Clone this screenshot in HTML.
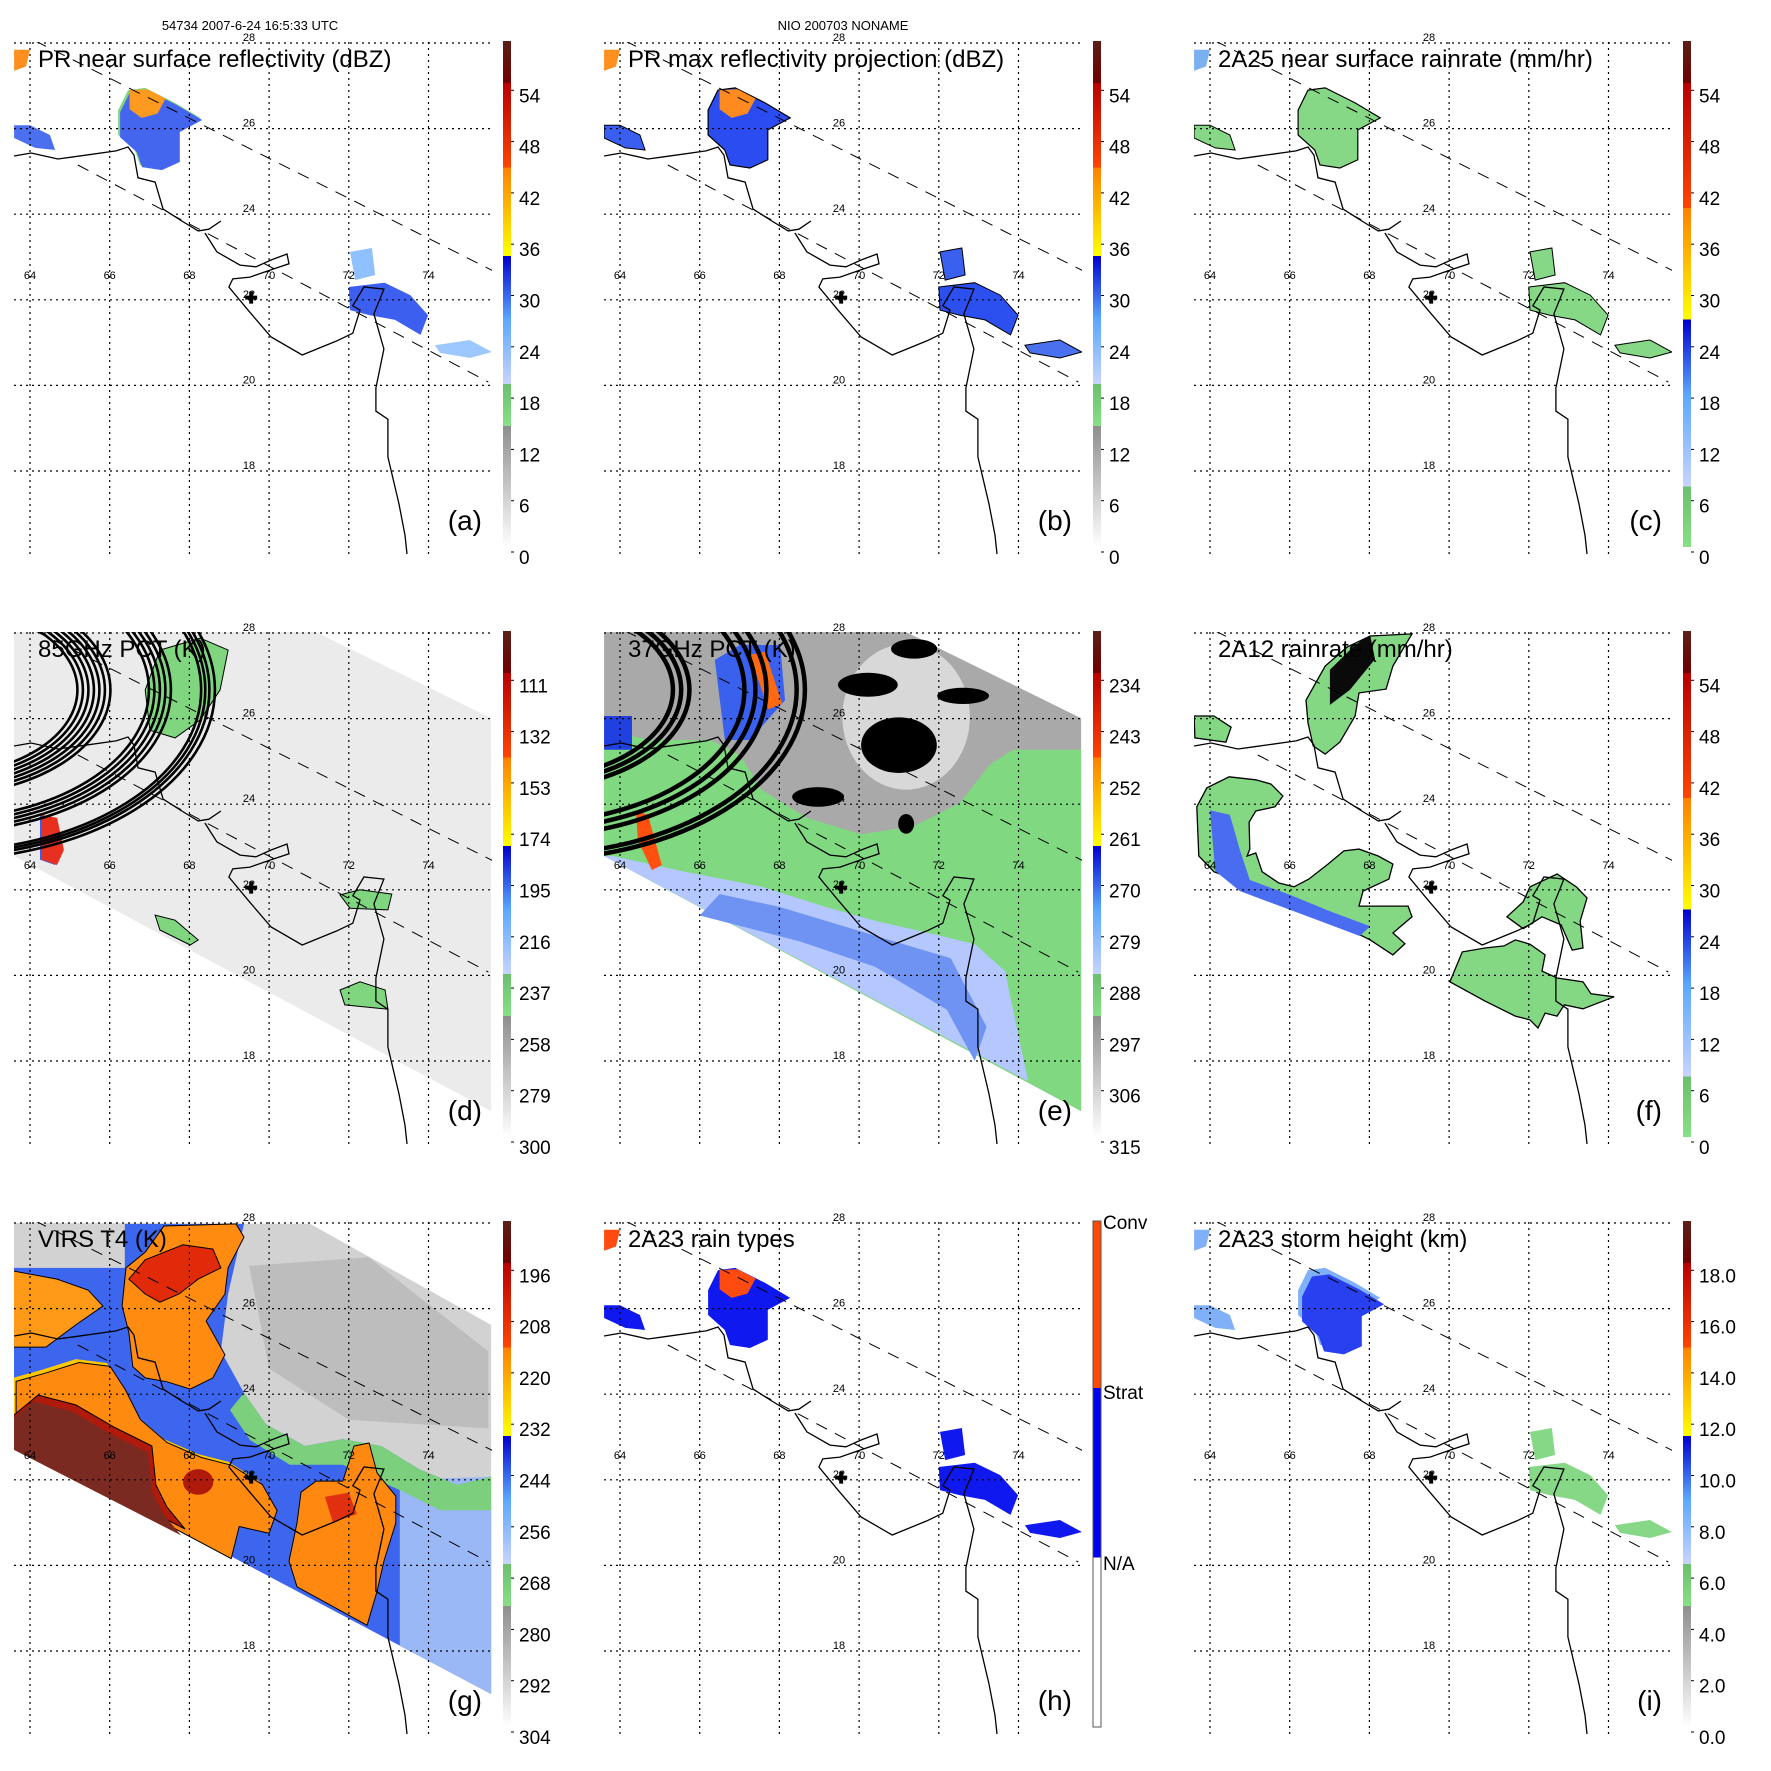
<!DOCTYPE html>
<html><head><meta charset="utf-8"><style>
html,body{margin:0;padding:0;background:#fff;}
svg{display:block;font-family:"Liberation Sans",sans-serif;}
</style></head><body>
<svg id="fig" width="1771" height="1771" viewBox="0 0 1771 1771" xmlns="http://www.w3.org/2000/svg">
<defs>
<clipPath id="mapclip"><rect x="14" y="42" width="478" height="513"/></clipPath>
</defs>
</svg>
<script>
// ---- axis / tick data ----
const lonTicks=[64,66,68,70,72,74];
const latTicks=[18,20,22,24,26,28];
const cbDbz=["0","6","12","18","24","30","36","42","48","54"];
const cbRain=["0","6","12","18","24","30","36","42","48","54"];
const cb85=["300","279","258","237","216","195","174","153","132","111"];
const cb37=["315","306","297","288","279","270","261","252","243","234"];
const cbVirs=["304","292","280","268","256","244","232","220","208","196"];
const cbHgt=["0.0","2.0","4.0","6.0","8.0","10.0","12.0","14.0","16.0","18.0"];
const cbType=["N/A","Strat","Conv"];
const titles=["PR near surface reflectivity (dBZ)","PR max reflectivity projection (dBZ)","2A25 near surface rainrate (mm/hr)","85GHz PCT (K)","37GHz PCT (K)","2A12 rainrate (mm/hr)","VIRS T4 (K)","2A23 rain types","2A23 storm height (km)"];
const letters=["(a)","(b)","(c)","(d)","(e)","(f)","(g)","(h)","(i)"];
const centerPt=[69.55,22.05];
// ---- geography (lon,lat) ----
const coastNorth=[[63.6,25.36],[64.03,25.43],[64.7,25.29],[65.1,25.34],[66.16,25.48],[66.46,25.57],[66.61,25.38],[66.71,24.85],[67.14,24.75],[67.34,24.12],[67.81,23.84],[68.22,23.61],[68.49,23.65],[68.79,23.84]];
const coastSouth=[[68.39,23.56],[68.69,23.12],[69.27,22.81],[69.67,22.77],[70.05,22.93],[70.45,23.07],[70.5,22.84],[70.05,22.7],[69.52,22.53],[69.09,22.49],[68.99,22.3],[69.47,21.76],[70.05,21.13],[70.83,20.71],[71.7,21.04],[72.1,21.22],[72.28,21.76],[72.1,21.86],[72.38,22.3],[72.88,22.25],[72.63,21.67],[72.88,20.85],[72.68,19.94],[72.68,19.4],[72.98,19.21],[72.98,18.33],[73.26,17.23],[73.41,16.5],[73.46,16.06]];
const swathUpper=[[64.13,28.05],[75.72,22.63]];
const swathLower=[[65.2,25.15],[75.5,20.08]];
const pmwSwath=[[63.6,28.02],[71.18,28.02],[75.57,26.01],[75.57,16.83],[63.6,22.79]];
const virsSwath=[[63.57,28.0],[71.03,27.98],[75.57,25.62],[75.57,16.99],[63.57,22.91]];
const prNW=[[66.46,26.9],[66.89,26.95],[67.64,26.6],[68.27,26.25],[67.71,25.97],[67.71,25.27],[67.26,25.08],[66.76,25.15],[66.63,25.5],[66.21,25.85],[66.21,26.43]];
const prNWcore=[[66.5,26.9],[66.95,26.92],[67.4,26.7],[67.2,26.35],[66.8,26.25],[66.5,26.45]];
const prW=[[63.6,26.08],[64,26.08],[64.5,25.85],[64.63,25.5],[64.13,25.55],[63.6,25.78]];
const prTL=[[63.6,27.84],[64.0,27.84],[63.9,27.45],[63.6,27.35]];
const prSE=[[72.0,22.3],[72.9,22.4],[73.54,22.11],[73.99,21.64],[73.8,21.18],[73.16,21.53],[72.53,21.64],[72.03,21.76]];
const prSEn=[[72.03,23.12],[72.58,23.21],[72.66,22.58],[72.16,22.46]];
const prTrail=[[74.16,20.94],[75.04,21.06],[75.59,20.78],[75.04,20.64],[74.29,20.76]];
const fWest=[[63.67,23.94],[63.92,24.38],[64.48,24.64],[65.15,24.57],[65.53,24.47],[65.83,24.19],[65.63,23.94],[65.15,23.84],[64.98,23.58],[65.0,22.95],[64.93,22.79],[65.15,22.86],[65.31,22.42],[65.73,22.16],[66.11,22.07],[66.48,22.25],[66.96,22.6],[67.36,22.91],[67.74,22.95],[68.22,22.79],[68.59,22.6],[68.49,22.25],[67.84,21.97],[67.74,21.62],[68.97,21.62],[69.07,21.37],[68.59,20.99],[68.89,20.74],[68.59,20.48],[68.02,20.83],[67.26,21.18],[66.11,21.72],[65.15,22.07],[64.1,22.42],[63.72,22.79]];
const fWestBlue=[[64,23.86],[64.5,23.75],[64.75,22.93],[65,22.23],[66.01,21.88],[67.01,21.5],[68.02,21.15],[67.76,20.92],[66.76,21.27],[65.76,21.62],[64.75,21.97],[64.13,22.44]];
const fSE=[[70.02,19.85],[70.33,20.55],[70.9,20.64],[71.38,20.69],[71.66,20.83],[72.03,20.73],[72.41,20.48],[72.33,20.1],[72.71,19.94],[73.36,19.85],[73.56,19.57],[74.14,19.5],[73.36,19.22],[72.89,19.31],[72.71,19.05],[72.41,19.12],[72.23,18.77],[72.03,18.96],[71.66,19.05],[70.9,19.4]];
const fE=[[71.45,21.37],[71.86,21.72],[72.03,22.07],[72.71,22.37],[73.19,22.07],[73.46,21.81],[73.29,21.27],[73.36,20.64],[73.09,20.59],[72.81,21.18],[72.33,21.37],[71.86,21.09]];
const fNorth=[[66.41,26.43],[66.89,27.23],[67.44,27.67],[68.02,27.93],[69.07,27.98],[68.59,27.23],[68.42,26.69],[67.74,26.6],[67.64,26.06],[67.26,25.45],[66.89,25.17],[66.59,25.36],[66.46,25.9]];
const fNorthBlack=[[67.01,27.14],[67.64,27.72],[68.02,27.95],[68.14,27.39],[67.51,26.67],[67.01,26.32]];
const fWsmall=[[63.6,26.06],[64.1,26.06],[64.53,25.8],[64.4,25.45],[63.62,25.55]];
const dGreenN=[[67.26,27.6],[68.27,27.88],[68.97,27.6],[68.77,26.67],[68.27,25.97],[67.64,25.55],[67.01,25.73],[66.89,26.67]];
const dStreak=[[64.25,23.75],[64.63,23.68],[64.8,22.93],[64.63,22.58],[64.25,22.7]];
const dGreenSE1=[[71.78,21.88],[72.28,22.0],[73.08,21.9],[72.98,21.53],[72.03,21.57]];
const dGreenSE2=[[71.78,19.66],[72.28,19.85],[72.91,19.66],[72.98,19.21],[71.9,19.31]];
const dGreen3=[[67.14,21.41],[67.64,21.29],[68.22,20.83],[68.02,20.71],[67.26,21.06]];
const ringCenter=[61.74,26.67,6.9,3.97];
const ringsD=[0.5,0.52,0.54,0.56,0.58,0.6,0.62,0.76,0.78,0.8,0.82,0.84,0.95,0.965,0.98,1.0];
const ringsE=[0.52,0.55,0.58,0.78,0.82,0.86,0.97,1.0];
const eGreen=[[63.6,25.73],[64.75,25.5],[66.26,25.5],[67.01,25.15],[67.56,24.33],[68.69,23.68],[70.05,23.3],[71.38,23.49],[72.53,24.03],[73.28,24.92],[73.86,25.27],[75.57,25.27],[75.57,16.83],[63.6,22.79]];
const eBlue=[[63.6,22.79],[63.82,22.79],[65.63,22.42],[67.56,22.07],[69.09,21.62],[70.42,21.27],[71.75,20.99],[72.91,20.73],[73.66,20.1],[73.86,19.21],[74.06,18.33],[74.24,17.53]];
const eBlueTop=[[66.38,27.37],[67.01,27.72],[68.02,27.72],[68.14,26.43],[67.26,25.5],[66.63,25.5]];
const eStreakTop=[[67.26,27.49],[67.64,27.56],[68.07,26.34],[67.72,26.22]];
const eStreakLeft=[[64.4,23.84],[64.7,23.75],[65.05,22.58],[64.8,22.46],[64.45,23.16]];
const eDarkBlue=[[63.6,26.06],[64.3,26.06],[64.3,25.27],[63.6,25.27]];
const eLight=[71.18,26.04,1.6,1.7];
const eBlack=[[71.0,25.38,0.95,0.65],[70.22,26.79,0.75,0.28],[71.38,27.63,0.58,0.23],[72.61,26.53,0.65,0.19],[68.97,24.17,0.65,0.23],[71.18,23.54,0.2,0.23]];
const gBlue=[[63.57,26.95],[66.38,26.95],[66.38,27.98],[69.37,27.98],[68.97,26.34],[68.79,25.01],[69.37,24.03],[69.92,23.3],[70.9,22.79],[71.85,22.95],[72.81,22.79],[73.76,22.25],[74.72,21.88],[75.57,22.07],[75.57,17.0],[63.57,22.91]];
const gLightBlue=[[73.28,22.0],[75.57,22.07],[75.57,17.0],[73.28,18.12]];
const gGreen=[[69.37,24.03],[69.92,23.3],[70.9,22.79],[71.85,22.95],[72.81,22.79],[73.76,22.25],[74.72,21.88],[75.57,22.07],[75.57,21.29],[74.29,21.29],[73.28,21.76],[71.85,22.35],[70.52,22.35],[69.52,22.93],[69.02,23.63]];
const gOrangeNW=[[66.41,26.95],[66.89,27.32],[67.36,27.93],[69.17,27.98],[69.37,27.67],[68.97,26.95],[68.89,26.34],[68.42,25.71],[68.89,24.92],[68.59,24.38],[68.02,24.12],[67.44,24.29],[66.89,24.38],[66.58,24.64],[66.48,25.45],[66.31,26.06]];
const gRedNW=[[66.48,26.69],[66.89,27.14],[67.84,27.49],[68.59,27.39],[68.79,26.95],[68.22,26.69],[67.74,26.34],[67.26,26.15],[66.89,26.34]];
const gOrangeW=[[63.57,26.88],[64.68,26.69],[65.46,26.43],[65.83,26.06],[65.15,25.62],[64.4,25.1],[63.57,25.1]];
const gOrangeS=[[63.57,24.38],[64.3,24.57],[65.15,24.82],[65.93,24.73],[66.31,24.19],[66.69,23.49],[67.36,22.95],[68.22,22.6],[68.97,22.42],[69.75,21.97],[70.12,21.36],[69.92,20.83],[69.17,20.99],[68.97,20.24],[63.57,22.91]];
const gDarkRed=[[63.57,23.49],[64.2,23.98],[65.15,23.75],[66.11,23.23],[67.06,22.79],[67.16,21.88],[67.44,21.36],[67.89,20.85],[63.57,22.91]];
const gOrangeSE=[[70.8,21.71],[71.18,21.97],[71.85,21.97],[72.13,22.79],[72.51,22.86],[72.71,22.16],[73.18,21.62],[73.18,20.99],[72.88,20.1],[72.71,19.4],[72.46,18.6],[70.7,19.5],[70.5,20.1],[70.7,20.99]];
const gRedSE=[[71.4,21.6],[72.0,21.7],[72.2,21.2],[71.6,21.0]];
const gRedBlob=[68.22,21.95,0.38,0.3];

function X(lon){return 30+(lon-64)*39.85;}
function Y(lat){return 43+(28-lat)*42.8;}
function pts(arr){return arr.map(p=>X(p[0]).toFixed(1)+','+Y(p[1]).toFixed(1)).join(' ');}
const NS='http://www.w3.org/2000/svg';
const svg=document.getElementById('fig');
function mk(tag,attrs,parent){const e=document.createElementNS(NS,tag);for(const k in attrs)e.setAttribute(k,attrs[k]);parent.appendChild(e);return e;}
function poly(parent,arr,fill,stroke,sw,name){
  const el=mk('polygon',{points:pts(arr),fill:fill,stroke:stroke||'none','stroke-width':sw||0},parent);
  
  
  return el;}
function line(parent,arr,stroke,sw,dash,name){
  const el=mk('polyline',{points:pts(arr),fill:'none',stroke:stroke,'stroke-width':sw,'stroke-dasharray':dash||'none'},parent);
  
  
  return el;}
function ell(parent,b,fill,name){
  const el=mk('ellipse',{cx:X(b[0]),cy:Y(b[1]),rx:b[2]*39.85,ry:b[3]*42.8,fill:fill},parent);
  
  
  return el;}
function txt(parent,x,y,s,size,anchor,name){
  const el=mk('text',{x:x,y:y,'font-size':size,'text-anchor':anchor||'start',fill:'#000'},parent);
  el.textContent=s;
  
  
  return el;}

const gradDefs={
 A:[[0,'#ffffff'],[0.239,'#8e8e8e'],[0.239,'#86e086'],[0.322,'#6cbf6c'],[0.322,'#c8d4ff'],[0.45,'#5aa8ff'],[0.575,'#0000d0'],[0.575,'#ffff00'],[0.75,'#ff8000'],[0.75,'#ff4400'],[0.917,'#b80000'],[0.917,'#700000'],[1,'#5a2018']],
 C:[[0,'#86e086'],[0.12,'#6cbf6c'],[0.12,'#c8d4ff'],[0.3,'#5aa8ff'],[0.45,'#0000d0'],[0.45,'#ffff00'],[0.67,'#ff8000'],[0.67,'#ff4400'],[0.917,'#b80000'],[0.917,'#700000'],[1,'#5a2018']],
 H:[[0,'#ffffff'],[0.335,'#ffffff'],[0.335,'#0000f0'],[0.67,'#0000f0'],[0.67,'#ff4a00'],[1,'#ff4a00']]
};
const defs=svg.querySelector('defs');
for(const k in gradDefs){
  const lg=mk('linearGradient',{id:'cb'+k,x1:0,y1:1,x2:0,y2:0},defs);
  gradDefs[k].forEach(s=>mk('stop',{offset:s[0],'stop-color':s[1]},lg));
}

function panelBase(i){
  const col=i%3,row=Math.floor(i/3);
  const g=mk('g',{transform:`translate(${col*590},${row*590})`},svg);
  
  
  const map=mk('g',{'clip-path':'url(#mapclip)'},g);
  
  
  return {g,map};
}
function overlays(i,g,map){
  lonTicks.forEach(lon=>{
    const l=mk('line',{x1:X(lon),x2:X(lon),y1:42,y2:555,stroke:'#000','stroke-width':1.2,'stroke-dasharray':'2,4'},g);
    
    
    txt(g,X(lon),279,String(lon),11,'middle','lon-label');
  });
  latTicks.forEach(lat=>{
    const l=mk('line',{x1:14,x2:492,y1:Y(lat),y2:Y(lat),stroke:'#000','stroke-width':1.2,'stroke-dasharray':'2,4'},g);
    
    
    txt(g,249,Y(lat)-2,String(lat),11,'middle','lat-label');
  });
  line(map,swathUpper,'#000',1,'12,9','swath-edge-upper');
  line(map,swathLower,'#000',1,'12,9','swath-edge-lower');
  line(map,coastNorth,'#000',1.3,null,'coastline-north');
  line(map,coastSouth,'#000',1.3,null,'coastline-south');
  const cx=X(centerPt[0]),cy=Y(centerPt[1]);
  const cr=mk('path',{d:`M${cx-6},${cy}H${cx+6}M${cx},${cy-6}V${cy+6}`,stroke:'#000','stroke-width':4},g);
  
  
  txt(g,38,67,titles[i],24,'start','panel-title');
  txt(g,482,530,letters[i],28,'end','panel-letter');
}
function colorbar(g,type,labels){
  const r=mk('rect',{x:503,y:41,width:8,height:506,fill:'url(#cb'+type+')',stroke:type==='H'?'#555':'none','stroke-width':1},g);
  
  
  if(type==='H'){
    labels.forEach((s,k)=>txt(g,513,[390,219,49][k],s,19,'start','colorbar-label'));
    return;
  }
  labels.forEach((s,k)=>{
    const y=557-k*51.3;
    const t=mk('line',{x1:511,x2:514,y1:y-5,y2:y-5,stroke:'#000','stroke-width':1},g);
    
    
    txt(g,519,y+7,s,19,'start','colorbar-label');
  });
}
function rings(map,scales,w){
  scales.forEach(s=>{
    const e=mk('ellipse',{cx:X(ringCenter[0]),cy:Y(ringCenter[1]),rx:ringCenter[2]*39.85*s,ry:ringCenter[3]*42.8*s,fill:'none',stroke:'#000','stroke-width':w},map);
    
    
  });
}

(function(){const {g,map}=panelBase(0);
 poly(map,prNW,'#7fd67f','none',0,'rain-nw-halo');
 poly(map,prNW.map(p=>[p[0]+0.05,p[1]-0.05]),'#4466ee','none',0,'rain-nw');
 poly(map,prNWcore,'#ff9a20','none',0,'rain-nw-core');
 poly(map,prW,'#4a70f0','none',0,'rain-west');
 poly(map,prTL,'#ff9020','none',0,'rain-topleft');
 poly(map,prSE,'#3d5ff0','none',0,'rain-se');
 poly(map,prSEn,'#8fc0ff','none',0,'rain-se-north');
 poly(map,prTrail,'#9cc8ff','none',0,'rain-trail');
 overlays(0,g,map);colorbar(g,'A',cbDbz);})();
(function(){const {g,map}=panelBase(1);
 poly(map,prNW,'#2a4cf0','#000',1.2,'rain-nw');
 poly(map,prNWcore,'#ff8a20','none',0,'rain-nw-core');
 poly(map,prW,'#3a5ff0','#000',1,'rain-west');
 poly(map,prTL,'#ff9020','none',0,'rain-topleft');
 poly(map,prSE,'#2c50f0','#000',1,'rain-se');
 poly(map,prSEn,'#3a60f0','#000',1,'rain-se-north');
 poly(map,prTrail,'#4a70f0','#000',1,'rain-trail');
 overlays(1,g,map);colorbar(g,'A',cbDbz);})();
(function(){const {g,map}=panelBase(2);
 poly(map,prNW,'#86d886','#000',1.2,'rain-nw');
 poly(map,prW,'#86d886','#000',1,'rain-west');
 poly(map,prTL,'#7ab0f0','none',0,'rain-topleft');
 poly(map,prSE,'#86d886','#000',1,'rain-se');
 poly(map,prSEn,'#86d886','#000',1,'rain-se-north');
 poly(map,prTrail,'#86d886','#000',1,'rain-trail');
 overlays(2,g,map);colorbar(g,'C',cbRain);})();
(function(){const {g,map}=panelBase(3);
 poly(map,pmwSwath,'#ebebeb','none',0,'swath-85ghz');
 poly(map,dGreenN,'#7fd67f','#000',1,'low-tb-north');
 poly(map,dStreak,'#3a5ff0','none',0,'low-tb-streak');
 poly(map,dStreak.map(p=>[p[0]+0.05,p[1]]),'#e83020','none',0,'low-tb-streak-core');
 poly(map,dGreenSE1,'#7fd67f','#000',1,'low-tb-se1');
 poly(map,dGreenSE2,'#7fd67f','#000',1,'low-tb-se2');
 poly(map,dGreen3,'#7fd67f','#000',1,'low-tb-3');
 rings(map,ringsD,2.6);
 overlays(3,g,map);colorbar(g,'A',cb85);})();
(function(){const {g,map}=panelBase(4);
 poly(map,pmwSwath,'#a9a9a9','none',0,'swath-37ghz');
 ell(map,eLight,'#d8d8d8','warm-patch');
 poly(map,eGreen,'#80d880','none',0,'tb-green-zone');
 poly(map,eDarkBlue,'#2040e0','none',0,'tb-blue-left');
 poly(map,eBlue,'#b4c8ff','none',0,'tb-blue-zone');
 poly(map,[[66.5,21.9],[68.0,21.6],[70.5,20.9],[72.3,20.4],[73.2,18.8],[72.9,18.0],[72.2,19.2],[70.4,20.2],[68.5,20.8],[66.0,21.4]],'#6f93f2','none',0,'tb-blue-core');
 poly(map,eBlueTop,'#3a60ee','none',0,'tb-blue-top');
 poly(map,eStreakTop,'#ff6a10','none',0,'tb-streak-top');
 poly(map,eStreakLeft,'#ff5010','none',0,'tb-streak-left');
 eBlack.forEach(b=>ell(map,b,'#000','cold-blob'));
 rings(map,ringsE,4.5);
 overlays(4,g,map);colorbar(g,'A',cb37);})();
(function(){const {g,map}=panelBase(5);
 poly(map,fWest,'#84d884','#000',1.3,'rain-west-swath');
 poly(map,fWestBlue,'#4a6cf0','none',0,'rain-west-heavy');
 poly(map,fSE,'#84d884','#000',1.3,'rain-se');
 poly(map,fE,'#84d884','#000',1.3,'rain-east');
 poly(map,fNorth,'#84d884','#000',1.3,'rain-north');
 poly(map,fNorthBlack,'#0a0a0a','none',0,'rain-north-dark');
 poly(map,fWsmall,'#84d884','#000',1.3,'rain-west-small');
 overlays(5,g,map);colorbar(g,'C',cbRain);})();
(function(){const {g,map}=panelBase(6);
 poly(map,virsSwath,'#d2d2d2','none',0,'swath-virs');
 poly(map,[[69.5,27.0],[72.5,27.2],[75.5,25.0],[75.5,23.2],[72.0,23.4],[70.0,24.6]],'#bdbdbd','none',0,'tb-gray-patch');
 poly(map,gBlue,'#3c66ee','none',0,'tb-blue');
 poly(map,gLightBlue,'#9ab8f6','none',0,'tb-lightblue');
 poly(map,gGreen,'#7ccf7c','none',0,'tb-green');
 poly(map,gOrangeW,'#ff9a18','#000',1,'cloud-west');
 poly(map,gOrangeS,'#ffc800','none',0,'cloud-south-rim');
 poly(map,gOrangeS.map(p=>[p[0]+0.08,p[1]-0.08]),'#ff8a10','#000',1,'cloud-south');
 poly(map,gDarkRed,'#b01a0a','#000',1,'cloud-core-south');
 poly(map,gDarkRed.map(p=>[p[0]-0.1,p[1]-0.15]),'#7a2a20','none',0,'cloud-core-dark');
 poly(map,gOrangeNW,'#ff8c10','#000',1,'cloud-nw');
 poly(map,gRedNW,'#e02a0a','#000',1,'cloud-nw-core');
 poly(map,gOrangeSE,'#ff8810','#000',1,'cloud-se');
 poly(map,gRedSE,'#e03010','none',0,'cloud-se-core');
 ell(map,gRedBlob,'#b01a0a','cloud-cell');
 overlays(6,g,map);colorbar(g,'A',cbVirs);})();
(function(){const {g,map}=panelBase(7);
 poly(map,prNW,'#1018f0','none',0,'strat-nw');
 poly(map,prNWcore,'#ff4a10','none',0,'conv-nw');
 poly(map,prW,'#1018f0','none',0,'strat-west');
 poly(map,prTL,'#ff4a10','none',0,'conv-topleft');
 poly(map,prSE,'#1018f0','none',0,'strat-se');
 poly(map,prSEn,'#1018f0','none',0,'strat-se-north');
 poly(map,prTrail,'#1018f0','none',0,'strat-trail');
 overlays(7,g,map);colorbar(g,'H',cbType);})();
(function(){const {g,map}=panelBase(8);
 poly(map,prNW,'#7fb0f8','none',0,'height-nw-halo');
 poly(map,prNW.map(p=>[p[0]+0.1,p[1]-0.15]),'#2840f0','none',0,'height-nw');
 poly(map,prW,'#7fb0f8','none',0,'height-west');
 poly(map,prTL,'#7fb0f8','none',0,'height-topleft');
 poly(map,prSE,'#86d886','none',0,'height-se');
 poly(map,prSEn,'#86d886','none',0,'height-se-north');
 poly(map,prTrail,'#86d886','none',0,'height-trail');
 overlays(8,g,map);colorbar(g,'A',cbHgt);})();

txt(svg,250,30,'54734 2007-6-24 16:5:33 UTC',13,'middle','orbit-header');
txt(svg,843,30,'NIO 200703 NONAME',13,'middle','storm-header');
</script>
</body></html>
